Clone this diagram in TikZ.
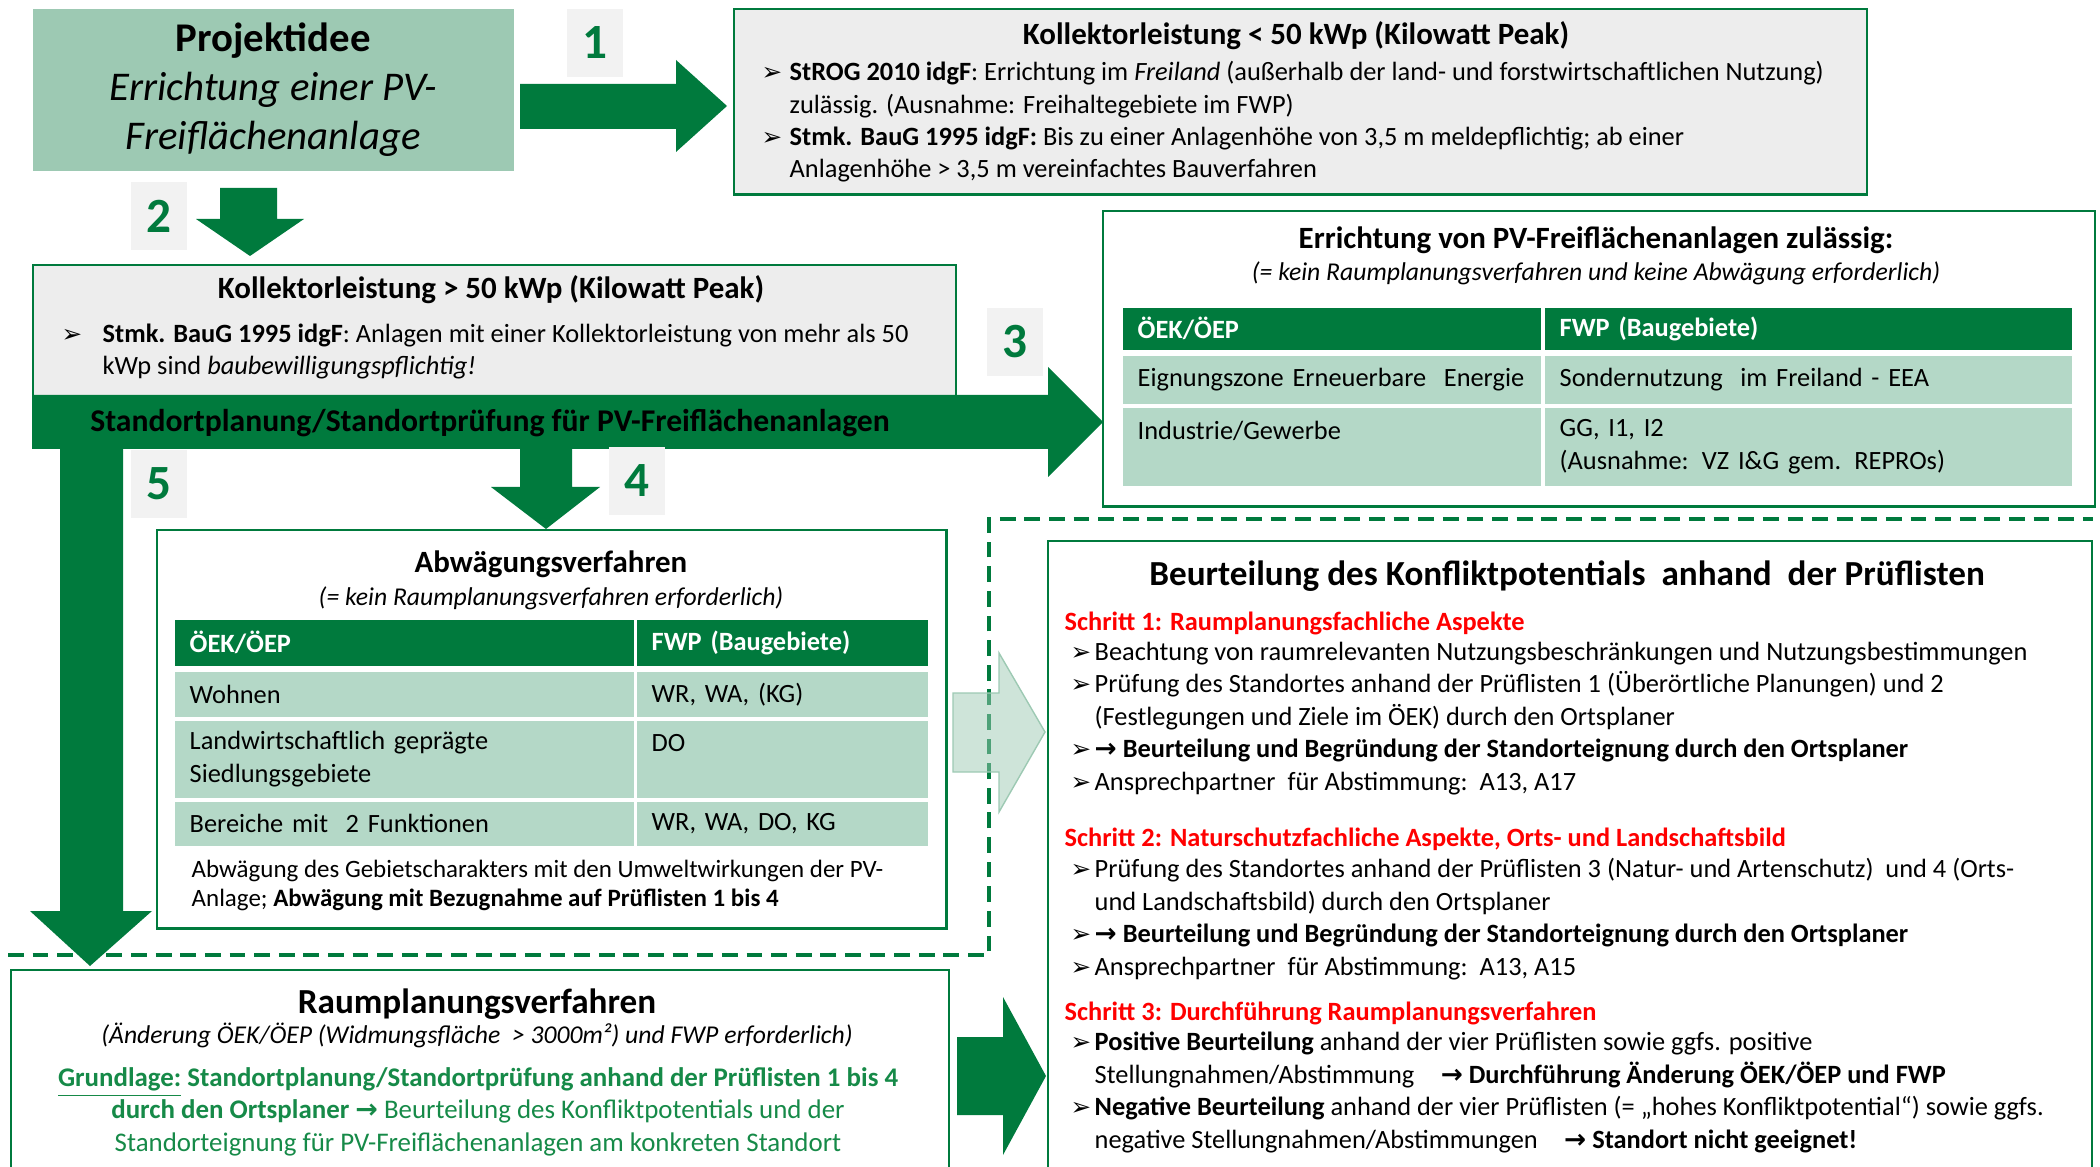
\documentclass[tikz,border=0pt]{standalone}
\usepackage{fontspec}
\setmainfont{Carlito}
\newfontfamily\dejavu{DejaVu Sans}
\definecolor{pvgreen}{RGB}{0,122,61}
\definecolor{pvlight}{RGB}{157,201,179}
\definecolor{pvrow}{RGB}{180,216,199}
\definecolor{boxgray}{RGB}{237,237,237}
\definecolor{numgray}{RGB}{242,242,242}
\definecolor{pvred}{RGB}{255,0,0}
\definecolor{txtgreen}{RGB}{22,138,72}
\newcommand{\pvb}[1][1pt]{\llap{{\dejavu\fontsize{7}{7}\selectfont ➢}\hspace{#1}}}
\newcommand{\pvto}{{\dejavu →}}

\tikzset{
  bodytext/.style={font=\fontsize{7.5}{9.2}\selectfont, align=left, inner sep=0pt},
  boxtitle/.style={font=\bfseries\fontsize{8.8}{10}\selectfont, inner sep=0pt},
  bigtitle/.style={font=\bfseries\fontsize{10}{11}\selectfont, inner sep=0pt},
  subtitle/.style={font=\itshape\fontsize{7.3}{9}\selectfont, inner sep=0pt},
  greybox/.style={draw=pvgreen, line width=0.7pt, fill=boxgray, anchor=north west, inner sep=0pt},
  whitebox/.style={draw=pvgreen, line width=0.7pt, fill=white, anchor=north west, inner sep=0pt},
  numlbl/.style={fill=numgray, text=pvgreen, font=\bfseries\fontsize{14}{14}\selectfont,
    minimum width=0.55cm, minimum height=0.68cm, inner sep=0pt},
  tcell/.style={anchor=north west, inner xsep=0.15cm, inner ysep=0pt, align=left,
    font=\fontsize{7.5}{9.2}\selectfont},
  thead/.style={tcell, fill=pvgreen, text=white, font=\bfseries\fontsize{7.5}{9.2}\selectfont},
  trow/.style={tcell, fill=pvrow},
  blockarrow/.style={fill=pvgreen},
}

\begin{document}
\begin{tikzpicture}[x=0.01cm, y=-0.01cm]
  \useasboundingbox (0,0) rectangle (2100,1167);

  % dashed frame round the conflict check
  \draw[pvgreen, line width=1.4pt, dash pattern=on 4.5pt off 2.5pt]
    (8,955) -- (989,955) -- (989,519) -- (2093,519);

  % top row
  \node[fill=pvlight, anchor=north west, minimum width=4.81cm, minimum height=1.62cm,
    inner sep=0pt, align=center, font=\fontsize{11.6}{13.9}\selectfont] (idee) at (32,8)
    {\textbf{Projektidee}\\ \textit{Errichtung einer PV-}\\ \textit{Freiflächenanlage}};
  \node[numlbl] (lbl1) at (595,43) {1};
  \fill[blockarrow] (520,84) -- (676,84) -- (676,60) -- (727,106) -- (676,152) -- (676,129) -- (520,129) -- cycle;

  \node[greybox, minimum width=11.32cm, minimum height=1.85cm] (klein) at (733,8) {};
  \node[boxtitle, anchor=base] (kleintit) at (1296,45) {Kollektorleistung < 50 kWp (Kilowatt Peak)};
  % base anchor sits on the last line
  \node[bodytext, anchor=base west] (kleintxt) at (789,178)
    {\pvb[2.1pt]\textbf{StROG 2010 idgF}: Errichtung im \textit{Freiland} (außerhalb der land- und forstwirtschaftlichen Nutzung)\\
     zulässig. (Ausnahme: Freihaltegebiete im FWP)\\
     \pvb[2.1pt]\textbf{Stmk. BauG 1995 idgF:} Bis zu einer Anlagenhöhe von 3,5 m meldepflichtig; ab einer\\
     Anlagenhöhe > 3,5 m vereinfachtes Bauverfahren};

  % second row
  \node[numlbl] (lbl2) at (159,216) {2};
  \fill[blockarrow] (220,188) -- (277,188) -- (277,219) -- (304,219) -- (250,256) -- (196,219) -- (220,219) -- cycle;

  \node[greybox, minimum width=9.22cm, minimum height=1.31cm] (gross) at (32,264) {};
  \node[boxtitle, anchor=base] (grosstit) at (491,299) {Kollektorleistung > 50 kWp (Kilowatt Peak)};
  \node[bodytext, anchor=base west] (grosstxt) at (102,375)
    {\pvb[5.8pt]\textbf{Stmk. BauG 1995 idgF}: Anlagen mit einer Kollektorleistung von mehr als 50\\
     kWp sind \textit{baubewilligungspflichtig!}};

  % band with arrow 3
  \fill[blockarrow] (32,395) -- (1048,395) -- (1048,367) -- (1103,422) -- (1048,477) -- (1048,449) -- (32,449) -- cycle;
  \node[boxtitle, anchor=base, font=\bfseries\fontsize{9}{10}\selectfont] (band) at (490,432) {Standortplanung/Standortprüfung für PV-Freiflächenanlagen};
  \node[numlbl] (lbl3) at (1015,342) {3};

  \node[whitebox, minimum width=9.91cm, minimum height=2.95cm] (zul) at (1102,210) {};
  \node[boxtitle, anchor=base] (zultit) at (1596,249) {Errichtung von PV-Freiflächenanlagen zulässig:};
  \node[subtitle, anchor=base] (zulsub) at (1596,281) {(= kein Raumplanungsverfahren und keine Abwägung erforderlich)};
  \node[thead, text width=3.88cm, minimum height=0.42cm] (zh1) at (1122,307) {ÖEK/ÖEP};
  \node[thead, text width=4.97cm, minimum height=0.42cm] (zh2) at (1544,307) {FWP (Baugebiete)};
  \node[trow, text width=3.88cm, minimum height=0.48cm] (z11) at (1122,355) {Eignungszone Erneuerbare\ \ Energie};
  \node[trow, text width=4.97cm, minimum height=0.48cm] (z12) at (1544,355) {Sondernutzung\ \ im Freiland - EEA};
  \node[trow, text width=3.88cm, minimum height=0.78cm] (z21) at (1122,407) {Industrie/Gewerbe\\\mbox{}};
  \node[trow, text width=4.97cm, minimum height=0.78cm] (z22) at (1544,407) {GG, I1, I2\\(Ausnahme: VZ I\&G gem. REPROs)};

  % arrows 4 and 5
  \fill[blockarrow] (60,449) -- (123,449) -- (123,911) -- (152,911) -- (90,966) -- (30,911) -- (60,911) -- cycle;
  \node[numlbl] (lbl5) at (159,484) {5};
  \fill[blockarrow] (520,449) -- (572,449) -- (572,487) -- (600,487) -- (546,529) -- (491,487) -- (520,487) -- cycle;
  \node[numlbl] (lbl4) at (637,481) {4};

  % Abwaegungsverfahren
  \node[whitebox, minimum width=7.89cm, minimum height=3.98cm] (abw) at (156,529) {};
  \node[boxtitle, anchor=base] (abwtit) at (551,572) {Abwägungsverfahren};
  \node[subtitle, anchor=base] (abwsub) at (551,605) {(= kein Raumplanungsverfahren erforderlich)};
  \node[thead, text width=4.29cm, minimum height=0.46cm] (ah1) at (174,619) {ÖEK/ÖEP};
  \node[thead, text width=2.61cm, minimum height=0.46cm] (ah2) at (636,619) {FWP (Baugebiete)};
  \node[trow, text width=4.29cm, minimum height=0.45cm] (a11) at (174,671) {Wohnen};
  \node[trow, text width=2.61cm, minimum height=0.45cm] (a12) at (636,671) {WR, WA, (KG)};
  \node[trow, text width=4.29cm, minimum height=0.77cm] (a21) at (174,720) {Landwirtschaftlich geprägte\\Siedlungsgebiete};
  \node[trow, text width=2.61cm, minimum height=0.77cm] (a22) at (636,720) {DO\\\mbox{}};
  \node[trow, text width=4.29cm, minimum height=0.44cm] (a31) at (174,801) {Bereiche mit\ \ 2 Funktionen};
  \node[trow, text width=2.61cm, minimum height=0.44cm] (a32) at (636,801) {WR, WA, DO, KG};
  \node[bodytext, anchor=base west, font=\fontsize{7.1}{8}\selectfont] (abwtxt) at (191,906)
    {Abwägung des Gebietscharakters mit den Umweltwirkungen der PV-\\
     Anlage; \textbf{Abwägung mit Bezugnahme auf Prüflisten 1 bis 4}};

  % Beurteilung
  \node[whitebox, minimum width=10.43cm, minimum height=6.4cm] (beurt) at (1047,540) {};
  \fill[pvlight, fill opacity=0.5, draw=pvlight] (953,693) -- (999,693) -- (999,653) -- (1045,732) -- (999,812) -- (999,772) -- (953,772) -- cycle;
  \node[bigtitle, anchor=base] (beurttit) at (1567,585) {Beurteilung des Konfliktpotentials\ \ anhand\ \ der Prüflisten};
  \node[bodytext, anchor=base west, text=pvred, font=\bfseries\fontsize{7.5}{9.2}\selectfont] (s1) at (1064,630)
    {Schritt 1: Raumplanungsfachliche Aspekte};
  \node[bodytext, anchor=base west] (s1list) at (1094,790)
    {\pvb Beachtung von raumrelevanten Nutzungsbeschränkungen und Nutzungsbestimmungen\\
     \pvb Prüfung des Standortes anhand der Prüflisten 1 (Überörtliche Planungen) und 2\\
     (Festlegungen und Ziele im ÖEK) durch den Ortsplaner\\
     \pvb\textbf{\pvto{} Beurteilung und Begründung der Standorteignung durch den Ortsplaner}\\
     \pvb Ansprechpartner\ \ für Abstimmung:\ \ A13, A17};
  \node[bodytext, anchor=base west, text=pvred, font=\bfseries\fontsize{7.5}{9.2}\selectfont] (s2) at (1064,846)
    {Schritt 2: Naturschutzfachliche Aspekte, Orts- und Landschaftsbild};
  \node[bodytext, anchor=base west] (s2list) at (1094,975)
    {\pvb Prüfung des Standortes anhand der Prüflisten 3 (Natur- und Artenschutz)\ \ und 4 (Orts-\\
     und Landschaftsbild) durch den Ortsplaner\\
     \pvb\textbf{\pvto{} Beurteilung und Begründung der Standorteignung durch den Ortsplaner}\\
     \pvb Ansprechpartner\ \ für Abstimmung:\ \ A13, A15};
  \node[bodytext, anchor=base west, text=pvred, font=\bfseries\fontsize{7.5}{9.2}\selectfont] (s3) at (1064,1020)
    {Schritt 3: Durchführung Raumplanungsverfahren};
  \node[bodytext, anchor=base west] (s3list) at (1094,1148)
    {\pvb\textbf{Positive Beurteilung} anhand der vier Prüflisten sowie ggfs. positive\\
     Stellungnahmen/Abstimmung\quad\textbf{\pvto{} Durchführung Änderung ÖEK/ÖEP und FWP}\\
     \pvb\textbf{Negative Beurteilung} anhand der vier Prüflisten (= „hohes Konfliktpotential“) sowie ggfs.\\
     negative Stellungnahmen/Abstimmungen\quad\textbf{\pvto{} Standort nicht geeignet!}};

  % Raumplanungsverfahren
  \node[whitebox, minimum width=9.37cm, minimum height=2.2cm] (raum) at (10,969) {};
  \node[bigtitle, anchor=base] (raumtit) at (477,1013) {Raumplanungsverfahren};
  \node[subtitle, anchor=base] (raumsub) at (477,1043) {(Änderung ÖEK/ÖEP (Widmungsfläche\ \ > 3000m²) und FWP erforderlich)};
  \node[bodytext, anchor=base, align=center, text=txtgreen, font=\fontsize{7.65}{9.2}\selectfont] (raumtxt) at (478,1151)
    {\textbf{\underline{Grundlage:} Standortplanung/Standortprüfung anhand der Prüflisten 1 bis 4}\\
     \textbf{durch den Ortsplaner \pvto} Beurteilung des Konfliktpotentials und der\\
     Standorteignung für PV-Freiflächenanlagen am konkreten Standort};
  \fill[blockarrow] (957,1037) -- (1003,1037) -- (1003,997) -- (1046,1076) -- (1003,1155) -- (1003,1115) -- (957,1115) -- cycle;
\end{tikzpicture}
\end{document}
